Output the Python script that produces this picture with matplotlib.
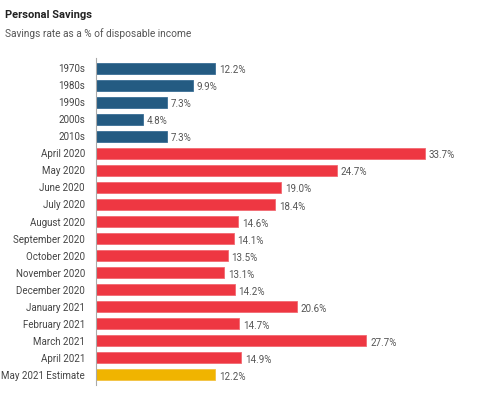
import matplotlib
matplotlib.use("Agg")
import matplotlib.pyplot as plt

plt.rcParams['font.family'] = ['Roboto', 'DejaVu Sans']

categories = ["1970s", "1980s", "1990s", "2000s", "2010s",
              "April 2020", "May 2020", "June 2020", "July 2020", "August 2020",
              "September 2020", "October 2020", "November 2020", "December 2020",
              "January 2021", "February 2021", "March 2021", "April 2021",
              "May 2021 Estimate"]
values = [12.2, 9.9, 7.3, 4.8, 7.3,
          33.7, 24.7, 19.0, 18.4, 14.6,
          14.1, 13.5, 13.1, 14.2,
          20.6, 14.7, 27.7, 14.9,
          12.2]
groups = ["decade"] * 5 + ["month"] * 13 + ["estimate"]
group_colors = {"decade": "#245b82", "month": "#ee3742", "estimate": "#f0b400"}
edge_colors = {"decade": "#3a6f95", "month": "#f26a72", "estimate": "#f3c240"}

fig = plt.figure(figsize=(4.99, 3.94), dpi=100)
ax = fig.add_axes([96/499, 1-385/394, 1-96/499 - 0.01, (385-58)/394])

y = list(range(len(categories)))
ax.barh(y, values, height=0.64,
        color=[group_colors[g] for g in groups],
        edgecolor=[edge_colors[g] for g in groups], linewidth=0.6)
for yi, v in zip(y, values):
    ax.text(v + 0.4, yi + 0.12, f"{v:.1f}%", va="center", ha="left",
            fontsize=7, color="#555555")

ax.set_yticks(y)
ax.set_yticklabels(categories, fontsize=7, color="#444444")
ax.set_ylim(18.6, -0.6)
ax.set_xlim(0, 40.8)
ax.tick_params(axis='y', length=0, pad=8)
ax.set_xticks([])
for s in ["top", "right", "bottom"]:
    ax.spines[s].set_visible(False)
ax.spines["left"].set_color("#aaaaaa")
ax.spines["left"].set_linewidth(0.8)

fig.text(5/499, 1-15/394, "Personal Savings", fontsize=8, fontweight="bold",
         color="#222222", va="center", ha="left")
fig.text(5/499, 1-34/394, "Savings rate as a % of disposable income", fontsize=7.3,
         color="#555555", va="center", ha="left")

fig.savefig("out.png", dpi=100, facecolor="white")
